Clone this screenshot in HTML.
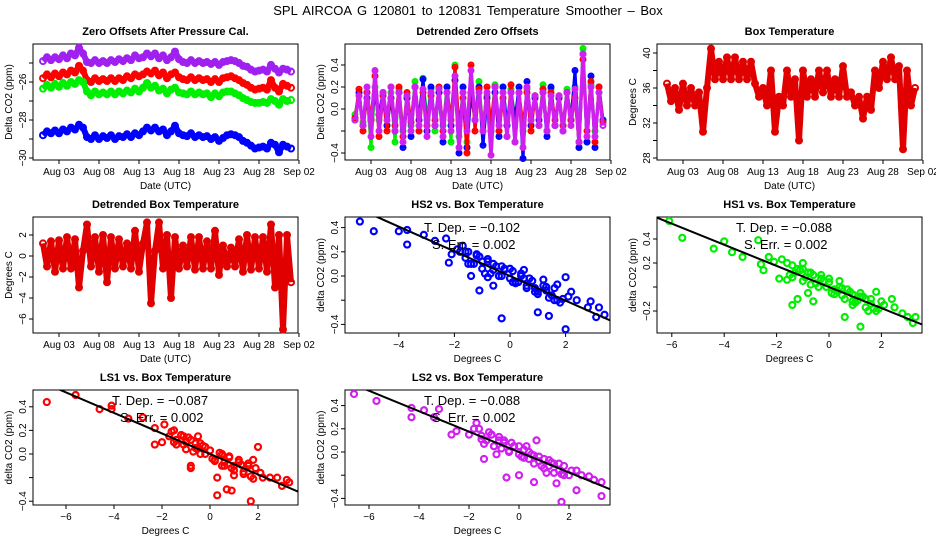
<!DOCTYPE html>
<html><head><meta charset="utf-8"><style>
html,body{margin:0;padding:0;background:#fff}
svg{display:block;font-family:"Liberation Sans",Arial,sans-serif}
</style></head><body>
<svg id="chart" width="936" height="540" viewBox="0 0 936 540" xmlns="http://www.w3.org/2000/svg">
<text x="468" y="15" text-anchor="middle" font-size="13" word-spacing="2">SPL   AIRCOA G   120801 to 120831   Temperature Smoother – Box</text>
</svg>
<script>
// ---- time series data (half-day steps starting Aug 01) ----
const dateTicks = ["Aug 03","Aug 08","Aug 13","Aug 18","Aug 23","Aug 28","Sep 02"];
const dateTickDays = [2,7,12,17,22,27,32];
const zeroBlue = [-28.8,-28.6,-28.7,-28.55,-28.7,-28.5,-28.6,-28.4,-28.5,-28.25,-28.4,-28.9,-29.0,-28.8,-29.0,-28.85,-28.95,-28.8,-29.0,-28.85,-28.9,-28.75,-28.9,-28.7,-28.8,-28.6,-28.4,-28.55,-28.4,-28.6,-28.5,-28.8,-28.6,-28.3,-28.7,-28.8,-28.85,-28.7,-28.9,-28.8,-28.9,-28.85,-29.0,-28.9,-29.1,-28.95,-28.8,-28.75,-28.8,-28.9,-29.1,-29.2,-29.35,-29.5,-29.45,-29.4,-29.5,-29.2,-29.3,-29.7,-29.3,-29.4,-29.5];
const zeroPurple = [-24.9,-24.7,-24.85,-24.7,-24.8,-24.6,-24.75,-24.5,-24.6,-24.2,-24.5,-24.95,-25.0,-24.85,-25.0,-24.9,-25.0,-24.85,-24.95,-24.8,-24.9,-24.75,-24.85,-24.6,-24.75,-24.7,-24.5,-24.65,-24.5,-24.75,-24.6,-24.85,-24.7,-24.4,-24.8,-24.95,-25.0,-24.85,-25.0,-24.9,-25.0,-24.95,-25.05,-24.95,-25.1,-24.95,-24.9,-24.85,-24.9,-25.0,-25.15,-25.2,-25.35,-25.45,-25.4,-25.35,-25.45,-25.1,-25.3,-25.5,-25.3,-25.35,-25.45];
const zeroRed = [-25.8,-25.6,-25.75,-25.55,-25.7,-25.5,-25.6,-25.4,-25.5,-25.15,-25.4,-25.9,-26.0,-25.8,-25.95,-25.85,-25.95,-25.8,-25.95,-25.8,-25.9,-25.7,-25.8,-25.6,-25.7,-25.6,-25.45,-25.55,-25.4,-25.65,-25.5,-25.8,-25.6,-25.5,-25.75,-25.85,-25.9,-25.75,-25.9,-25.8,-25.9,-25.85,-26.0,-25.85,-26.0,-25.8,-25.75,-25.7,-25.8,-25.9,-26.05,-26.15,-26.3,-26.4,-26.35,-26.3,-26.4,-25.9,-26.3,-26.5,-26.1,-26.2,-26.3];
const zeroGreen = [-26.35,-26.15,-26.3,-26.1,-26.25,-26.05,-26.2,-26.0,-26.1,-25.9,-26.0,-26.5,-26.7,-26.5,-26.65,-26.55,-26.65,-26.5,-26.65,-26.5,-26.6,-26.45,-26.55,-26.35,-26.5,-26.3,-26.05,-26.3,-26.2,-26.45,-26.35,-26.6,-26.4,-26.3,-26.55,-26.6,-26.65,-26.5,-26.65,-26.55,-26.65,-26.6,-26.8,-26.6,-26.75,-26.55,-26.5,-26.5,-26.6,-26.7,-26.85,-26.95,-27.05,-27.1,-27.1,-27.05,-27.1,-26.9,-27.0,-27.2,-26.9,-27.0,-26.95];
const detBlue = [-0.1,0.15,-0.15,0.1,-0.1,0.12,-0.05,0.15,-0.15,0.1,-0.2,0.15,-0.35,0.1,-0.25,0.2,-0.1,0.27,-0.2,0.2,-0.15,0.15,-0.3,0.2,-0.15,0.26,-0.4,0.2,-0.35,0.15,-0.1,0.2,-0.33,0.1,-0.2,0.15,-0.25,0.2,-0.15,0.15,-0.1,0.2,-0.45,0.25,-0.15,0.1,-0.1,0.15,-0.25,0.2,-0.15,0.1,-0.2,0.15,-0.1,0.35,-0.35,0.5,-0.3,0.3,-0.35,0.2,-0.1];
const detGreen = [-0.05,0.12,-0.12,0.15,-0.35,0.2,-0.1,0.12,-0.15,0.15,-0.3,0.18,-0.2,0.1,-0.15,0.25,-0.2,0.28,-0.1,0.18,-0.2,0.15,-0.15,0.2,-0.3,0.4,-0.25,0.2,-0.3,0.15,-0.1,0.25,-0.2,0.12,-0.15,0.22,-0.2,0.2,-0.15,0.18,-0.1,0.15,-0.2,0.18,-0.1,0.12,-0.15,0.22,-0.2,0.18,-0.15,0.1,-0.15,0.18,-0.1,0.2,-0.35,0.55,-0.3,0.22,-0.2,0.15,-0.1];
const detRed = [-0.08,0.18,-0.2,0.15,-0.1,0.3,-0.25,0.12,-0.2,0.2,-0.15,0.2,-0.25,0.15,-0.12,0.2,-0.2,0.15,-0.15,0.12,-0.1,0.2,-0.2,0.15,-0.1,0.38,-0.15,0.1,-0.4,0.4,-0.2,0.18,-0.2,0.2,-0.15,0.2,-0.2,0.1,-0.25,0.22,-0.3,0.15,-0.15,0.15,-0.2,0.12,-0.15,0.18,-0.2,0.15,-0.1,0.12,-0.15,0.15,-0.1,0.1,-0.3,0.45,-0.2,0.25,-0.3,0.2,-0.12];
const detPurple = [-0.1,0.12,-0.15,0.2,-0.25,0.35,-0.2,0.15,-0.1,0.2,-0.2,0.15,-0.3,0.12,-0.2,0.2,-0.15,0.18,-0.25,0.15,-0.15,0.18,-0.25,0.15,-0.2,0.3,-0.35,0.15,-0.2,0.35,-0.1,0.15,-0.2,0.15,-0.42,0.2,-0.15,0.15,-0.25,0.15,-0.3,0.15,-0.35,0.2,-0.1,0.12,-0.15,0.15,-0.2,0.12,-0.15,0.12,-0.2,0.15,-0.15,0.18,-0.3,0.5,-0.25,0.2,-0.25,0.15,-0.15];
const boxTemp = [36.5,34.5,36,33.5,36.5,34,36,34,35.5,31,36,40.5,37,39,37,39.5,37,39.5,37,39,37,39,36.5,35,36,34,38,31,35,34,38,35,37,30,38,35,37,35,38,35.5,38,35,37,35,38.5,35,35.5,34,35,32.5,35,33.5,38,36,39,37,39.5,37,38.5,29,38,34,36];
const detBoxTemp = [1.2,-1,1.4,-1.5,1.5,-1.2,1.8,-1.2,1.6,-3,0.5,3,-1,1.8,-1.5,2,-2.5,1.8,-1.2,1.6,-1,1.2,-1.2,2.4,-1.5,1.2,3.2,-4.5,0.5,3.2,-1.2,2,-4,1.8,-1.2,1,-1,1.8,-1.3,1.8,-1.2,1.4,-1.2,2.4,-1.8,1,-1,0.8,-1,1.6,-1.5,2,-1.3,1.8,-1.2,1.8,-1.5,3,-3,2,-7,2,-2.5];
// ---- scatter data ----
const hs2X = [-5.4,-4.9,-4.0,-3.7,-3.7,-3.1,-2.7,-2.3,-2.1,-2.2,-1.9,-1.7,-1.6,-1.5,-1.3,-1.2,-1.0,-0.9,-0.8,-0.6,-0.5,-0.3,-0.2,0.0,0.1,0.3,0.4,0.6,0.7,0.9,1.0,1.2,1.3,1.5,1.7,1.9,2.0,2.2,2.4,2.8,2.9,3.1,3.2,3.4,-1.4,-0.6,-1.1,-0.3,1.0,1.4,2.0,0.5,-0.8,1.6,-1.8,0.2,
  -1.6,-1.4,-1.2,-1.0,-0.8,-0.6,-0.4,-0.2,0,0.2,0.4,0.6,0.8,1.0,1.2,1.4,1.6,1.8,-1.5,-1.1,-0.7,-0.3,0.1,0.5,0.9,1.3,1.7,2.1];
const hs2Y = [0.45,0.37,0.37,0.38,0.26,0.34,0.29,0.31,0.18,0.11,0.22,0.25,0.15,0.2,0.1,0.17,0.12,0.02,0.14,0.05,0.08,0.0,0.06,-0.02,0.04,-0.05,0.02,-0.08,-0.02,-0.1,-0.13,-0.03,-0.12,-0.16,-0.07,-0.19,-0.44,-0.13,-0.2,-0.26,-0.21,-0.34,-0.26,-0.32,0.0,-0.08,-0.12,-0.35,-0.3,-0.33,-0.01,0.05,-0.01,-0.2,0.2,-0.05,
  0.2,0.1,0.18,0.06,0.12,0.1,0.0,0.05,0.06,-0.06,0.0,-0.1,-0.04,-0.15,-0.08,-0.18,-0.1,-0.22,0.1,0.16,0.02,0.08,-0.05,-0.02,-0.13,-0.09,-0.2,-0.17];
const hs1X = [-6.1,-5.6,-4.4,-4.0,-3.7,-3.3,-2.7,-2.6,-2.5,-2.3,-2.1,-1.9,-1.8,-1.6,-1.4,-1.3,-1.2,-1.0,-0.9,-0.7,-0.5,-0.3,-0.1,0.0,0.2,0.4,0.5,0.7,0.9,1.1,1.2,1.4,1.6,1.8,1.9,2.0,2.4,2.5,2.8,3.0,3.2,3.3,-1.4,-0.8,0.6,1.2,-1.0,0.3,1.5,-0.6,0.9,
  -1.6,-1.4,-1.2,-1.0,-0.8,-0.6,-0.4,-0.2,0,0.2,0.4,0.6,0.8,1.0,1.2,1.4,1.6,1.8,-1.5,-1.1,-0.7,-0.3,0.1,0.5,0.9,1.3,1.7,2.1];
const hs1Y = [0.55,0.41,0.32,0.38,0.29,0.25,0.39,0.19,0.14,0.25,0.21,0.07,0.23,0.06,0.18,0.12,-0.1,0.15,0.08,0.12,0.03,0.1,0.0,0.07,-0.02,0.05,-0.07,-0.02,-0.06,-0.11,-0.33,-0.1,-0.14,-0.04,-0.18,-0.12,-0.1,-0.17,-0.22,-0.25,-0.3,-0.25,-0.15,-0.05,-0.25,-0.05,0.2,-0.03,-0.2,-0.12,-0.15,
  0.2,0.08,0.15,0.05,0.12,0.1,0.0,0.05,0.04,-0.06,0.0,-0.1,-0.04,-0.13,-0.08,-0.17,-0.1,-0.2,0.1,0.14,0.02,0.07,-0.05,-0.01,-0.12,-0.08,-0.18,-0.15];
const ls1X = [-6.8,-5.6,-4.6,-4.1,-4.1,-3.4,-2.8,-2.3,-2.3,-2.0,-1.9,-1.7,-1.5,-1.4,-1.2,-1.0,-0.9,-0.8,-0.6,-0.4,-0.2,0.0,0.2,0.3,0.5,0.6,0.8,0.9,1.0,1.2,1.4,1.6,1.7,1.9,2.0,2.2,2.5,2.8,3.0,3.2,3.3,-0.8,0.3,1.6,-0.5,0.7,1.0,-1.1,0.5,1.8,
  -1.6,-1.4,-1.2,-1.0,-0.8,-0.6,-0.4,-0.2,0,0.2,0.4,0.6,0.8,1.0,1.2,1.4,1.6,1.8,-1.5,-1.1,-0.7,-0.3,0.1,0.5,0.9,1.3,1.7,2.1];
const ls1Y = [0.44,0.5,0.38,0.41,0.38,0.3,0.31,0.22,0.08,0.1,0.25,0.15,0.2,0.12,0.16,0.1,0.14,-0.12,0.05,0.09,0.0,0.03,-0.05,-0.35,0.0,-0.07,-0.02,-0.31,-0.1,-0.05,-0.15,-0.08,-0.4,-0.12,0.06,-0.2,-0.2,-0.2,-0.27,-0.22,-0.24,-0.1,-0.2,-0.1,0.15,-0.3,-0.18,0.08,-0.1,-0.05,
  0.19,0.08,0.16,0.04,0.12,0.09,0.0,0.06,0.03,-0.06,0.01,-0.1,-0.03,-0.14,-0.07,-0.17,-0.1,-0.21,0.1,0.15,0.02,0.07,-0.04,-0.01,-0.12,-0.09,-0.19,-0.16];
const ls2X = [-6.6,-5.7,-4.3,-4.3,-3.8,-3.4,-3.2,-2.7,-2.5,-2.0,-1.7,-1.5,-1.3,-1.1,-1.0,-0.8,-0.6,-0.4,-0.2,0.0,0.2,0.4,0.6,0.8,1.0,1.2,1.4,1.6,1.8,2.0,2.3,2.5,2.8,3.0,3.3,3.3,-1.4,-0.5,0.0,0.6,1.5,1.7,2.3,0.7,-1.8,-0.9,0.3,1.1,
  -1.6,-1.4,-1.2,-1.0,-0.8,-0.6,-0.4,-0.2,0,0.2,0.4,0.6,0.8,1.0,1.2,1.4,1.6,1.8,-1.5,-1.1,-0.7,-0.3,0.1,0.5,0.9,1.3,1.7,2.1];
const ls2Y = [0.5,0.44,0.38,0.3,0.36,0.3,0.37,0.15,0.18,0.15,0.25,0.14,0.1,0.15,0.05,0.1,0.08,0.0,0.05,-0.02,0.02,-0.06,-0.03,-0.08,-0.06,-0.12,-0.1,-0.16,-0.12,-0.2,-0.16,-0.2,-0.21,-0.24,-0.26,-0.38,-0.06,-0.22,-0.2,-0.26,-0.27,-0.43,-0.33,0.1,0.2,-0.02,0.05,-0.18,
  0.2,0.07,0.17,0.05,0.13,0.1,0.01,0.05,0.05,-0.05,0.0,-0.1,-0.04,-0.14,-0.07,-0.18,-0.1,-0.2,0.11,0.15,0.03,0.08,-0.04,-0.02,-0.12,-0.09,-0.19,-0.16];
const slopes = [-0.102,-0.088,-0.087,-0.088];
const slopeLabels = ["−0.102","−0.088","−0.087","−0.088"];
const errLabels = ["0.002","0.002","0.002","0.002"];

const svg = document.getElementById('chart');
const NS = 'http://www.w3.org/2000/svg';
function mk(tag, attrs, parent){const e=document.createElementNS(NS,tag);for(const k in attrs)e.setAttribute(k,attrs[k]);(parent||svg).appendChild(e);return e;}

function panel(name, ox, oy, title, ytitle, xtitle, bx0, bx1, by0, by1){
  const g = mk('g',{});
  
  
  const t = mk('text',{x:ox+(bx0+bx1)/2,y:by0-9,'text-anchor':'middle','font-size':11,'font-weight':'bold'},g);
  t.textContent = title;
  
  
  const yt = mk('text',{x:0,y:0,'text-anchor':'middle','font-size':10,transform:`translate(${ox+12},${(by0+by1)/2}) rotate(-90)`},g);
  yt.textContent = ytitle;
  
  
  const xt = mk('text',{x:ox+(bx0+bx1)/2,y:by1+29,'text-anchor':'middle','font-size':10},g);
  xt.textContent = xtitle;
  
  
  const box = mk('rect',{x:ox+bx0,y:by0,width:bx1-bx0,height:by1-by0,fill:'none',stroke:'#000','stroke-width':1},g);
  
  
  return g;
}
function yAxis(g, ox, bx0, ticks, labels, ys){
  ticks.forEach((v,i)=>{
    const y = ys(v);
    mk('line',{x1:ox+bx0-4,x2:ox+bx0,y1:y,y2:y,stroke:'#000'},g);
    if(labels[i]!==''){
      const t = mk('text',{x:0,y:0,'text-anchor':'middle','font-size':10,transform:`translate(${ox+bx0-7},${y}) rotate(-90)`},g);
      t.textContent = labels[i];
      
      
    }
  });
}
function xAxis(g, ticks, labels, xs, by1){
  ticks.forEach((v,i)=>{
    const x = xs(v);
    mk('line',{x1:x,x2:x,y1:by1,y2:by1+4,stroke:'#000'},g);
    const t = mk('text',{x:x,y:by1+15,'text-anchor':'middle','font-size':10},g);
    t.textContent = labels[i];
    
    
  });
}
function series(g, vals, xs, ys, color, name, r, lw){
  const pts = vals.map((v,i)=>[xs(i*0.5), ys(v)]);
  const pl = mk('polyline',{points:pts.map(p=>p.join(',')).join(' '),fill:'none',stroke:color,'stroke-width':lw,'stroke-linejoin':'round'},g);
  
  
  pts.forEach(p=>{
    const c = mk('circle',{cx:p[0],cy:p[1],r:r,fill:'none',stroke:color,'stroke-width':2},g);
    
    
  });
}

// Panel 1
{
  const ox=0, g=panel('zero-offsets-panel',0,0,'Zero Offsets After Pressure Cal.','Delta CO2 (ppm)','Date (UTC)',33,298,44,160);
  const xs=t=>ox+43+8*t, ys=v=>82-(v+26)*19;
  yAxis(g,ox,33,[-25,-26,-27,-28,-29,-30],['','−26','','−28','','−30'],ys);
  xAxis(g,dateTickDays,dateTicks,xs,160);
  series(g,zeroPurple,xs,ys,'#a020f0','purple-ls2',3,6);
  series(g,zeroRed,xs,ys,'#ff0000','red-ls1',3,6);
  series(g,zeroGreen,xs,ys,'#00ee00','green-hs1',3,6);
  series(g,zeroBlue,xs,ys,'#0000ff','blue-hs2',3,6);
}
// Panel 2
{
  const ox=312, g=panel('detrended-zero-panel',312,0,'Detrended Zero Offsets','Delta CO2 (ppm)','Date (UTC)',33,298,44,160);
  const xs=t=>ox+43+8*t, ys=v=>109-v*110;
  yAxis(g,ox,33,[0.4,0.2,0,-0.2,-0.4],['0.4','0.2','0.0','','−0.4'],ys);
  xAxis(g,dateTickDays,dateTicks,xs,160);
  series(g,detGreen,xs,ys,'#00ee00','green-hs1',2.5,3);
  series(g,detBlue,xs,ys,'#0000ff','blue-hs2',2.5,3);
  series(g,detRed,xs,ys,'#ff0000','red-ls1',2.5,3);
  series(g,detPurple,xs,ys,'#d020f0','purple-ls2',2.5,3.5);
}
// Panel 3
{
  const ox=624, g=panel('box-temperature-panel',624,0,'Box Temperature','Degrees C','Date (UTC)',33,298,44,160);
  const xs=t=>ox+43+8*t, ys=v=>158-(v-28)*8.75;
  yAxis(g,ox,33,[28,30,32,34,36,38,40],['28','','32','','36','','40'],ys);
  xAxis(g,dateTickDays,dateTicks,xs,160);
  series(g,boxTemp,xs,ys,'#e00000','box-temp',3,6);
}
// Panel 4
{
  const ox=0, g=panel('detrended-box-temp-panel',0,200,'Detrended Box Temperature','Degrees C','Date (UTC)',33,298,217,333);
  const xs=t=>ox+43+8*t, ys=v=>256-v*10.5;
  yAxis(g,ox,33,[2,0,-2,-4,-6],['2','0','−2','−4','−6'],ys);
  xAxis(g,dateTickDays,dateTicks,xs,333);
  series(g,detBoxTemp,xs,ys,'#e00000','det-box-temp',3,6);
}
function scatter(name,ox,oy,title,by0,by1,X,Y,color,x0,ppx,y0,ppy,xt,yt,ytl,k){
  const g=panel(name,ox,oy,title,'delta CO2 (ppm)','Degrees C',33,298,by0,by1);
  const xs=v=>x0+v*ppx, ys=v=>y0-v*ppy;
  yAxis(g,ox,33,yt,ytl,ys);
  xAxis(g,xt,xt.map(v=>v<0?'−'+(-v):''+v),xs,by1);
  X.forEach((x,i)=>{
    const c=mk('circle',{cx:xs(x),cy:ys(Y[i]),r:3,fill:'none',stroke:color,'stroke-width':2.2},g);
    
    
  });
  const cp=mk('clipPath',{id:'clip-'+name},g);
  mk('rect',{x:ox+33,y:by0,width:265,height:by1-by0},cp);
  const xa=(ox+33-x0)/ppx, xb=(ox+298-x0)/ppx;
  const ln=mk('line',{x1:xs(xa),y1:ys(slopes[k]*xa),x2:xs(xb),y2:ys(slopes[k]*xb),stroke:'#000','stroke-width':2,'clip-path':`url(#clip-${name})`},g);
  
  
  const t1=mk('text',{x:ox+112,y:by0+15,'font-size':13},g);
  t1.textContent='T. Dep. =  '+slopeLabels[k];
  
  
  const t2=mk('text',{x:ox+120,y:by0+32,'font-size':13},g);
  t2.textContent='S. Err. =  '+errLabels[k];
  
  
}
scatter('hs2-scatter-panel',312,200,'HS2 vs. Box Temperature',217,333,hs2X,hs2Y,'#0000ff',510,27.8,276,121,[-4,-2,0,2],[0.4,0.2,0,-0.2,-0.4],['0.4','0.2','0.0','','−0.4'],0);
scatter('hs1-scatter-panel',624,200,'HS1 vs. Box Temperature',217,333,hs1X,hs1Y,'#00ee00',829,26.2,287,120,[-6,-4,-2,0,2],[0.4,0.2,0,-0.2],['0.4','0.2','','−0.2'],1);
scatter('ls1-scatter-panel',0,370,'LS1 vs. Box Temperature',390,505,ls1X,ls1Y,'#ff0000',210,24,454,118,[-6,-4,-2,0,2],[0.4,0.2,0,-0.2,-0.4],['0.4','0.2','0.0','','−0.4'],2);
scatter('ls2-scatter-panel',312,370,'LS2 vs. Box Temperature',390,505,ls2X,ls2Y,'#d020f0',519,25,452,116,[-6,-4,-2,0,2],[0.4,0.2,0,-0.2,-0.4],['0.4','0.2','0.0','','−0.4'],3);
</script>
</body></html>
